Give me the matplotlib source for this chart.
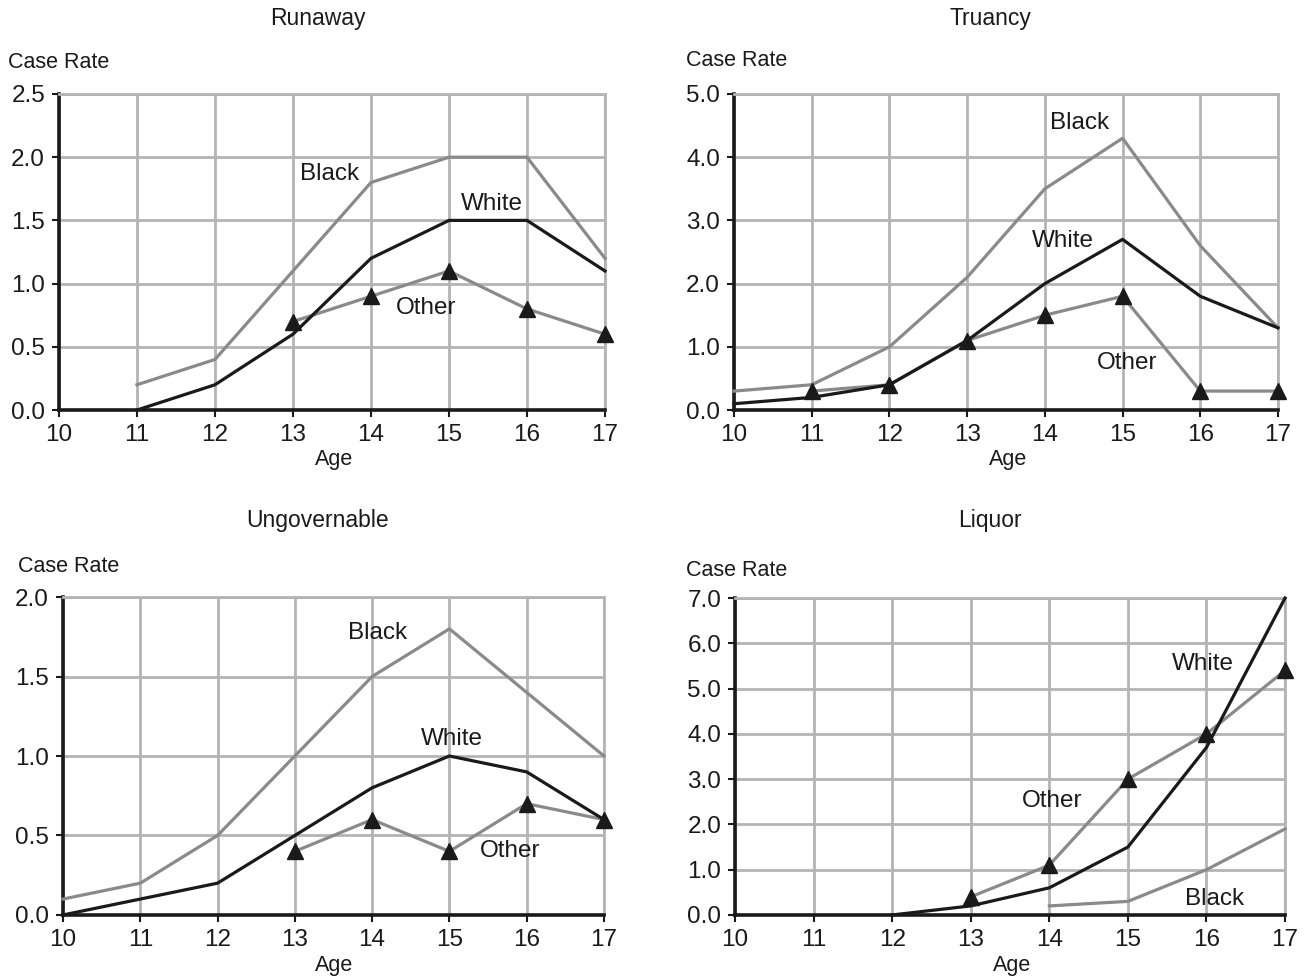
import matplotlib
matplotlib.use("Agg")
import matplotlib.pyplot as plt
import numpy as np

plt.rcParams['font.family'] = ['Liberation Sans', 'DejaVu Sans']

ages = [10, 11, 12, 13, 14, 15, 16, 17]

# Runaway
run_black_x = [11, 12, 13, 14, 15, 16, 17]
run_black = [0.2, 0.4, 1.1, 1.8, 2.0, 2.0, 1.2]
run_white_x = [11, 12, 13, 14, 15, 16, 17]
run_white = [0.0, 0.2, 0.6, 1.2, 1.5, 1.5, 1.1]
run_other_x = [13, 14, 15, 16, 17]
run_other = [0.7, 0.9, 1.1, 0.8, 0.6]

# Truancy
tru_black_x = [10, 11, 12, 13, 14, 15, 16, 17]
tru_black = [0.3, 0.4, 1.0, 2.1, 3.5, 4.3, 2.6, 1.3]
tru_white_x = [10, 11, 12, 13, 14, 15, 16, 17]
tru_white = [0.1, 0.2, 0.4, 1.1, 2.0, 2.7, 1.8, 1.3]
tru_other_x = [11, 12, 13, 14, 15, 16, 17]
tru_other = [0.3, 0.4, 1.1, 1.5, 1.8, 0.3, 0.3]

# Ungovernable
ung_black_x = [10, 11, 12, 13, 14, 15, 16, 17]
ung_black = [0.1, 0.2, 0.5, 1.0, 1.5, 1.8, 1.4, 1.0]
ung_white_x = [10, 11, 12, 13, 14, 15, 16, 17]
ung_white = [0.0, 0.1, 0.2, 0.5, 0.8, 1.0, 0.9, 0.6]
ung_other_x = [13, 14, 15, 16, 17]
ung_other = [0.4, 0.6, 0.4, 0.7, 0.6]

# Liquor
liq_black_x = [14, 15, 16, 17]
liq_black = [0.2, 0.3, 1.0, 1.9]
liq_white_x = [12, 13, 14, 15, 16, 17]
liq_white = [0.0, 0.2, 0.6, 1.5, 3.7, 7.0]
liq_other_x = [13, 14, 15, 16, 17]
liq_other = [0.4, 1.1, 3.0, 4.0, 5.4]

GRAY = '#8a8a8a'
DARK = '#1a1a1a'
GRID = '#b4b4b4'

fig = plt.figure(figsize=(13.07, 9.77), dpi=100)

panels = [
    dict(title='Runaway', rect=[0.0451, 0.5803, 0.4178, 0.3235],
         ymax=2.5, ystep=0.5,
         bx=run_black_x, b=run_black, wx=run_white_x, w=run_white, ox=run_other_x, o=run_other,
         lab={'Black': (330, 174), 'White': (492, 204), 'Other': (426, 308)},
         title_xy=(318, 19), cr_xy=(8, 62), age_xy=(334, 460)),
    dict(title='Truancy', rect=[0.5616, 0.5803, 0.4162, 0.3235],
         ymax=5.0, ystep=1.0,
         bx=tru_black_x, b=tru_black, wx=tru_white_x, w=tru_white, ox=tru_other_x, o=tru_other,
         lab={'Black': (1080, 123), 'White': (1063, 241), 'Other': (1127, 363)},
         title_xy=(990, 19), cr_xy=(686, 61), age_xy=(1008, 460)),
    dict(title='Ungovernable', rect=[0.0482, 0.0635, 0.4139, 0.3254],
         ymax=2.0, ystep=0.5,
         bx=ung_black_x, b=ung_black, wx=ung_white_x, w=ung_white, ox=ung_other_x, o=ung_other,
         lab={'Black': (378, 633), 'White': (452, 739), 'Other': (510, 851)},
         title_xy=(318, 521), cr_xy=(18, 567), age_xy=(334, 965)),
    dict(title='Liquor', rect=[0.5624, 0.0635, 0.4208, 0.3244],
         ymax=7.0, ystep=1.0,
         bx=liq_black_x, b=liq_black, wx=liq_white_x, w=liq_white, ox=liq_other_x, o=liq_other,
         lab={'White': (1203, 664), 'Other': (1052, 801), 'Black': (1215, 899)},
         title_xy=(990, 521), cr_xy=(686, 571), age_xy=(1012, 965)),
]

W, H = 1307, 977

def fx(px):
    return px / W

def fy(py):
    return 1 - py / H

for p in panels:
    ax = fig.add_axes(p['rect'])
    ax.set_xlim(10, 17)
    ax.set_ylim(0, p['ymax'])
    ax.set_xticks(ages)
    yt = np.arange(0, p['ymax'] + 1e-9, p['ystep'])
    ax.set_yticks(yt)
    ax.set_yticklabels([f'{v:.1f}' for v in yt])
    ax.grid(True, color=GRID, linewidth=2.0, zorder=0)
    ax.set_axisbelow(True)
    for s in ['top', 'right']:
        ax.spines[s].set_color(GRID)
        ax.spines[s].set_linewidth(2.0)
    for s in ['left', 'bottom']:
        ax.spines[s].set_color(DARK)
        ax.spines[s].set_linewidth(2.6)
    ax.tick_params(axis='both', direction='out', length=5, width=1.5, color=DARK,
                   labelsize=17.5, labelcolor=DARK)
    ax.tick_params(axis='x', pad=5)
    ax.tick_params(axis='y', pad=5)
    ax.plot(p['bx'], p['b'], color=GRAY, linewidth=2.3, zorder=3, clip_on=False)
    ax.plot(p['wx'], p['w'], color=DARK, linewidth=2.3, zorder=4, clip_on=False)
    ax.plot(p['ox'], p['o'], color=GRAY, linewidth=2.3, zorder=3, clip_on=False)
    ax.plot(p['ox'], p['o'], linestyle='none', marker='^', markersize=11,
            color=DARK, zorder=5, clip_on=False)
    for name, (lx, ly) in p['lab'].items():
        fig.text(fx(lx), fy(ly), name, ha='center', va='center', fontsize=17.5, color=DARK)
    fig.text(fx(p['title_xy'][0]), fy(p['title_xy'][1]), p['title'], ha='center', va='center',
             fontsize=16.5, color=DARK)
    fig.text(fx(p['cr_xy'][0]), fy(p['cr_xy'][1]), 'Case Rate', ha='left', va='center',
             fontsize=15.5, color=DARK)
    fig.text(fx(p['age_xy'][0]), fy(p['age_xy'][1]), 'Age', ha='center', va='center',
             fontsize=15.5, color=DARK)

fig.savefig('out.png', dpi=100, facecolor='white')
